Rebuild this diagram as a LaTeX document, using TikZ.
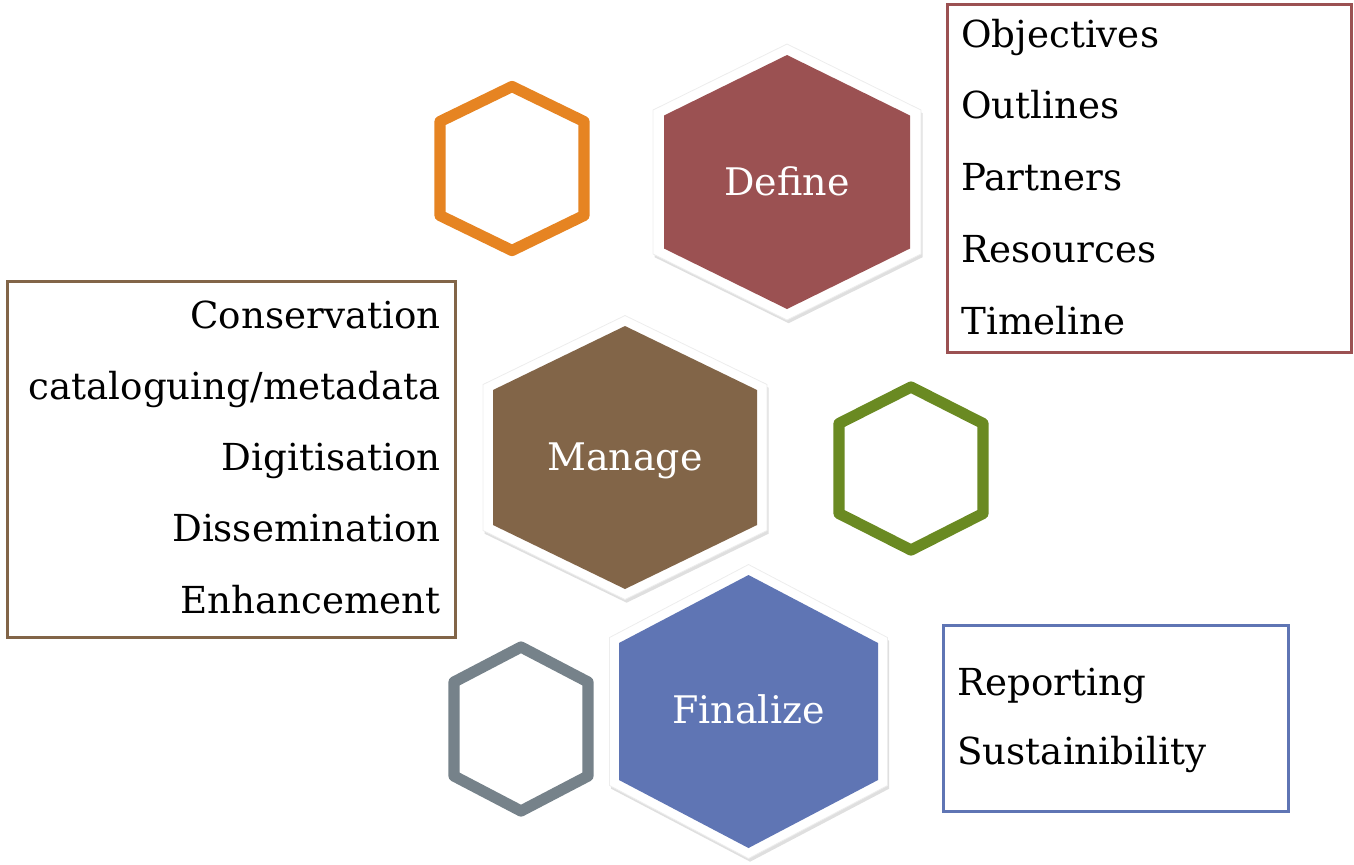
\documentclass[tikz,border=0pt]{standalone}
\usepackage{fontspec}
\setmainfont{DejaVu Serif}
\usepackage{tikz}
\usetikzlibrary{shadows}
\usepackage{xcolor}

\definecolor{definered}{HTML}{9B5152}
\definecolor{managebrown}{HTML}{826548}
\definecolor{finalblue}{HTML}{5F75B4}
\definecolor{ringorange}{HTML}{E68422}
\definecolor{ringgreen}{HTML}{6A8A22}
\definecolor{ringgray}{HTML}{76828A}

% hexagon with vertex on top: centre x, centre y, half width, half height, corner offset
\newcommand{\hexa}[5]{(#1,#2-#4) -- (#1+#3,#2-#5) -- (#1+#3,#2+#5) -- (#1,#2+#4) -- (#1-#3,#2+#5) -- (#1-#3,#2-#5) -- cycle}

\begin{document}
\begin{tikzpicture}[
    x=0.5pt, y=-0.5pt,
    hexborder/.style={fill=white, draw=black!7, line width=0.4pt, drop shadow={shadow xshift=0.8pt, shadow yshift=-1.6pt, opacity=0.25}},
    ring/.style={line width=5.6pt, line join=round, fill=white, drop shadow={shadow xshift=0.6pt, shadow yshift=-1.4pt, opacity=0.2}},
    hextext/.style={anchor=base, text=white, font=\fontsize{19}{22}\selectfont, inner sep=0pt},
    listbox/.style={rectangle, draw, line width=1.5pt, inner sep=0pt},
    item/.style={font=\fontsize{18.6}{22}\selectfont, inner sep=0pt}
]
    \useasboundingbox (0,0) rectangle (1354,864);

    % small outlined hexagons
    \draw[ring, draw=ringorange] \hexa{512}{168.5}{72}{82}{47};
    \draw[ring, draw=ringgreen] \hexa{911}{468.5}{72}{81.5}{45};
    \draw[ring, draw=ringgray] \hexa{521}{729}{67}{82}{47};

    % Define
    \filldraw[hexborder] \hexa{787}{182}{134}{138}{72};
    \fill[definered] \hexa{787}{182}{123}{127}{66.5};
    \node[hextext] (define) at (787,195) {Define};

    % Manage
    \filldraw[hexborder] \hexa{625}{457.5}{142}{142}{73};
    \fill[managebrown] \hexa{625}{457.5}{132}{131.5}{67.5};
    \node[hextext] (manage) at (625,470) {Manage};

    % Finalize
    \filldraw[hexborder] \hexa{748.5}{711.5}{139}{147}{74};
    \fill[finalblue] \hexa{748.5}{711.5}{129.5}{136.5}{68.5};
    \node[hextext] (finalize) at (748.5,723) {Finalize};

    % Lists
    \node[listbox, draw=definered, minimum width=202pt, minimum height=174pt] (definebox) at (1149,178) {};
    \foreach \txt [count=\i] in {Objectives, Outlines, Partners, Resources, Timeline}
        \node[item, anchor=base west] (defitem\i) at (961,{47+71.75*(\i-1)}) {\txt};

    \node[listbox, draw=managebrown, minimum width=224pt, minimum height=178pt] (managebox) at (231,459) {};
    \foreach \txt [count=\i] in {Conservation, cataloguing/metadata, Digitisation, Dissemination, Enhancement}
        \node[item, anchor=base east] (manitem\i) at (441,{328+71.25*(\i-1)}) {\txt};

    \node[listbox, draw=finalblue, minimum width=172.5pt, minimum height=93pt] (finalbox) at (1115.5,718) {};
    \node[item, anchor=base west] (finitem1) at (957,695) {Reporting};
    \node[item, anchor=base west] (finitem2) at (957,764) {Sustainibility};
\end{tikzpicture}
\end{document}
